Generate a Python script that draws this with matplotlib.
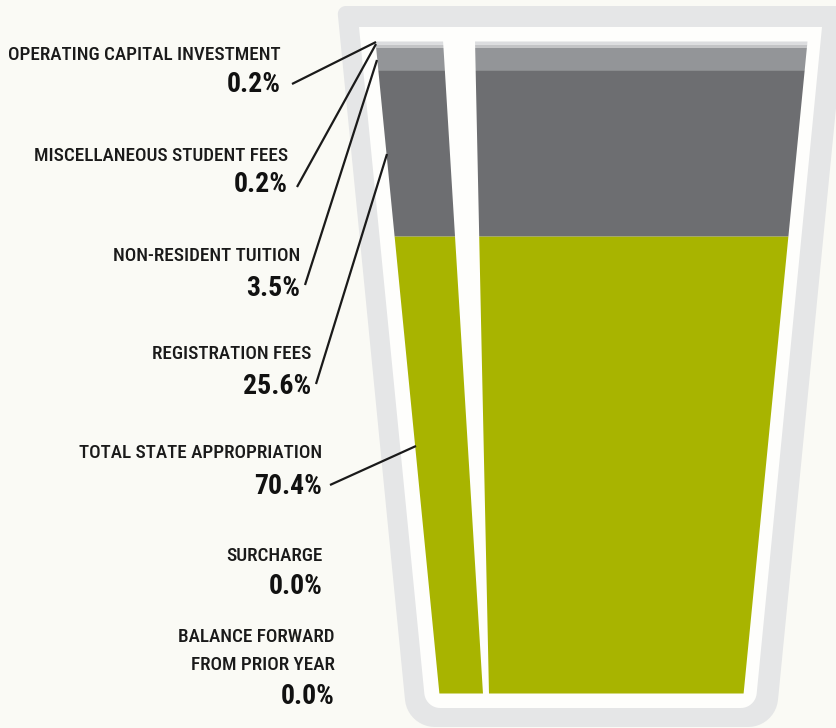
import matplotlib
matplotlib.use("Agg")
import matplotlib.pyplot as plt
import numpy as np
from matplotlib import font_manager as fm
from matplotlib.patches import Polygon

# revenue sources, top of the cup first
sources = ["OPERATING CAPITAL INVESTMENT", "MISCELLANEOUS STUDENT FEES",
           "NON-RESIDENT TUITION", "REGISTRATION FEES",
           "TOTAL STATE APPROPRIATION", "SURCHARGE",
           "BALANCE FORWARD\nFROM PRIOR YEAR"]
shares = [0.2, 0.2, 3.5, 25.6, 70.4, 0.0, 0.0]
layer_colors = ["#dcdddf", "#c3c4c6", "#939598", "#6d6e71", "#a8b400", "#a8b400", "#a8b400"]

# pick a condensed face if one is installed
names = {f.name for f in fm.fontManager.ttflist}
cond = next((n for n in ["Roboto Condensed", "Liberation Sans Narrow", "DejaVu Sans Condensed",
                         "Open Sans Condensed"] if n in names), None)
if cond:
    fam, stretch = [cond, "DejaVu Sans"], "normal"
else:
    fam, stretch = ["DejaVu Sans"], "condensed"


def rounded(points, radii, n=12):
    """polygon vertices with each corner filleted by its radius"""
    pts = np.asarray(points, float)
    out = []
    k = len(pts)
    for i in range(k):
        p, a, b = pts[i], pts[i - 1], pts[(i + 1) % k]
        r = radii[i]
        if r <= 0:
            out.append(p)
            continue
        ua = (a - p) / np.linalg.norm(a - p)
        ub = (b - p) / np.linalg.norm(b - p)
        theta = np.arccos(np.clip(np.dot(ua, ub), -1, 1))
        d = r / np.tan(theta / 2)
        t1, t2 = p + ua * d, p + ub * d
        bis = (ua + ub) / np.linalg.norm(ua + ub)
        c = p + bis * r / np.sin(theta / 2)
        a1 = np.arctan2(*(t1 - c)[::-1])
        a2 = np.arctan2(*(t2 - c)[::-1])
        da = (a2 - a1 + np.pi) % (2 * np.pi) - np.pi
        for t in np.linspace(0, 1, n):
            ang = a1 + da * t
            out.append(c + r * np.array([np.cos(ang), np.sin(ang)]))
    return np.array(out)


bg = "#fafaf5"
fig = plt.figure(figsize=(8.36, 7.28), dpi=100, facecolor=bg)
ax = fig.add_axes([0, 0, 1, 1])
ax.set_xlim(0, 836)
ax.set_ylim(728, 0)
ax.axis("off")
ax.set_facecolor(bg)

# cup geometry (pixel space, y pointing down)
slope = 0.098
top_fill, bot_fill = 41, 693
def left_x(y):
    return 375 + slope * (y - top_fill)
def right_x(y):
    return 807 - slope * (y - top_fill)

# outer grey rim and inner white body
outer_pts = [(337, 6), (846, 6), (846 - slope * 721, 727), (337 + slope * 721, 727)]
ax.add_patch(Polygon(rounded(outer_pts, [8, 8, 30, 30]), closed=True,
                     fc="#e5e6e7", ec="none", zorder=1))
inner_pts = [(359, 27), (822, 27), (822 - slope * 681, 708), (359 + slope * 681, 708)]
ax.add_patch(Polygon(rounded(inner_pts, [0, 0, 16, 16]), closed=True,
                     fc="#fefefc", ec="none", zorder=2))

# stacked layers, bottom to top; tiny non-zero layers get a minimum height
H = bot_fill - top_fill
vals = np.array(shares[::-1])
raw = vals / vals.sum() * H
disp = np.where(vals > 0, np.maximum(raw, 3.0), 0.0)
disp = disp * H / disp.sum()
base = bot_fill
for h, c in zip(disp, layer_colors[::-1]):
    if h <= 0:
        continue
    ys = np.array([base - h, base])
    ax.fill_betweenx(ys, left_x(ys), right_x(ys), color=c, lw=0, zorder=3)
    base -= h

# white gap running down the cup
ax.add_patch(Polygon([(443, top_fill - 1), (475, top_fill - 1), (489, bot_fill + 1), (483, bot_fill + 1)],
                     closed=True, fc="#fefefc", ec="none", zorder=4))

# labels: (right edge, label y, pct y)
label_pos = [(281, 55, 85), (288, 156, 185), (300, 256, 288), (311, 354, 386),
             (322, 453, 487), (323, 556, 587), (335, 651, 697)]
leaders = [((292, 84), (376, 42)), ((297, 187), (376, 44)), ((305, 285), (377, 60)),
           ((316, 384), (387, 154)), ((330, 485), (416, 446)), None, None]

for name, pct, (x, ly, py), ld in zip(sources, shares, label_pos, leaders):
    ax.text(x, ly, name, ha="right", va="center", fontsize=13.8, family=fam,
            fontstretch=stretch, fontweight="medium", color="#1a1a1a",
            linespacing=1.65, zorder=6)
    ax.text(x, py, f"{pct:.1f}%", ha="right", va="center", fontsize=20, family=fam,
            fontstretch=stretch, fontweight="bold", color="#111111", zorder=6)
    if ld:
        (x0, y0), (x1, y1) = ld
        ax.plot([x0, x1], [y0, y1], color="#1a1a1a", lw=1.6, solid_capstyle="butt", zorder=5)

fig.savefig("out.png", dpi=100, facecolor=bg)
